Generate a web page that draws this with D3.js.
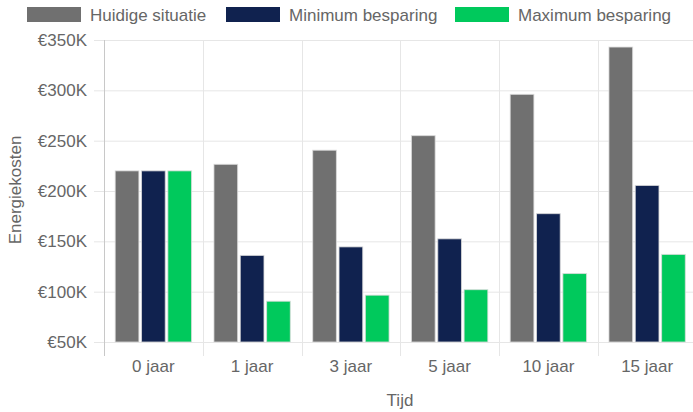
<!DOCTYPE html>
<html><head><meta charset="utf-8">
<script src="https://cdn.jsdelivr.net/npm/d3@7"></script>
<style>body{margin:0;background:#fff;}svg{display:block;font-family:"Liberation Sans",Arial,sans-serif;}</style>
</head><body>
<svg id="c" width="693" height="412"></svg>
<script>
const categories = ["0 jaar","1 jaar","3 jaar","5 jaar","10 jaar","15 jaar"];
const seriesNames = ["Huidige situatie","Minimum besparing","Maximum besparing"];
const seriesColors = ["#707070","#10224f","#00c95c"];
const huidige = [220, 226.5, 240.5, 255, 296, 343];
const minimum = [220, 136, 144.5, 152.5, 177.5, 205.5];
const maximum = [220, 90.5, 96.5, 102, 118, 137];
const yTicks = [50,100,150,200,250,300,350];
const seriesValues = [huidige, minimum, maximum];

const svg = d3.select("#c");
const L = 104, R = 696.5, T = 40, B = 342;
const FS = 17;
const x = d3.scaleBand().domain(categories).range([L, R]);
const x1 = d3.scaleBand().domain(d3.range(3)).range([0, x.bandwidth()*0.8]);
const y = d3.scaleLinear().domain([50,350]).range([B, T]);
const grid = "#e6e6e6", txt = "#666";

svg.append("g").selectAll("line").data(yTicks).join("line")
  .attr("x1", L-10).attr("x2", R).attr("y1", d=>y(d)+0.5).attr("y2", d=>y(d)+0.5)
  .attr("stroke", grid);
const bounds = categories.map(c=>x(c)).concat([R]);
svg.append("g").selectAll("line").data(bounds).join("line")
  .attr("x1", d=>Math.round(d)+0.5).attr("x2", d=>Math.round(d)+0.5)
  .attr("y1", T).attr("y2", B+14).attr("stroke", grid);
svg.append("line").attr("x1", L+0.5).attr("x2", L+0.5).attr("y1", T).attr("y2", B+14).attr("stroke","#c8c8c8");

svg.append("g").selectAll("text").data(yTicks).join("text")
  .attr("x", 87).attr("y", d=>y(d)).attr("dy","0.36em").attr("text-anchor","end")
  .attr("fill", txt).attr("font-size", FS).text(d=>"€"+d+"K");
svg.append("g").selectAll("text").data(categories).join("text")
  .attr("x", d=>x(d)+x.bandwidth()/2).attr("y", 372).attr("text-anchor","middle")
  .attr("fill", txt).attr("font-size", FS).text(d=>d);

const g = svg.append("g");
categories.forEach((c,i)=>{
  seriesValues.forEach((vals,s)=>{
    const bx = x(c) + x.bandwidth()*0.1 + x1(s) + x1.bandwidth()*0.05;
    const bw = x1.bandwidth()*0.9;
    g.append("rect").attr("x", bx).attr("y", y(vals[i])).attr("width", bw)
      .attr("height", y(50)-y(vals[i])).attr("fill", seriesColors[s])
      .attr("stroke","rgba(220,220,220,0.8)").attr("stroke-width",1);
  });
});

svg.append("text").attr("transform","translate(21,190) rotate(-90)").attr("text-anchor","middle")
  .attr("fill", txt).attr("font-size", FS).text("Energiekosten");
svg.append("text").attr("x", 400).attr("y", 406).attr("text-anchor","middle")
  .attr("fill", txt).attr("font-size", FS).text("Tijd");

const legX = [27, 226, 455];
const lg = svg.append("g");
seriesNames.forEach((n,i)=>{
  lg.append("rect").attr("x", legX[i]).attr("y", 7).attr("width", 54).attr("height", 15)
    .attr("fill", seriesColors[i]);
  lg.append("text").attr("x", legX[i]+63).attr("y", 15).attr("dy","0.36em")
    .attr("fill", txt).attr("font-size", FS).text(n);
});
</script>
</body></html>
